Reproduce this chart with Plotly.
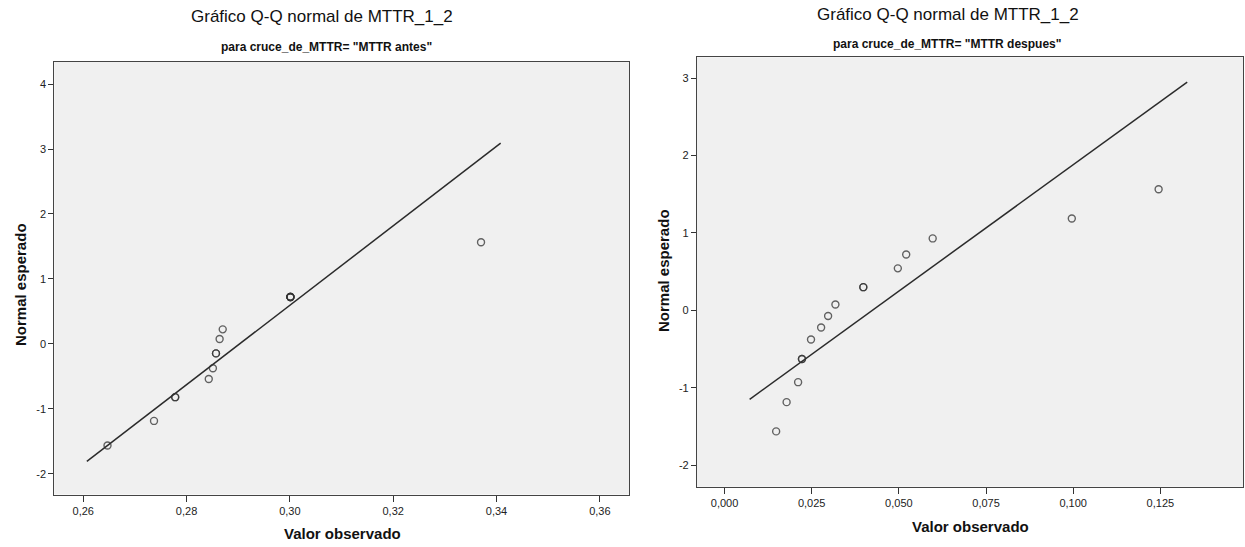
import plotly.graph_objects as go

# ---- data ----
antes_obs = [0.2647, 0.2737, 0.2778, 0.2778, 0.2843, 0.2851, 0.2857, 0.2857,
             0.2864, 0.2870, 0.3001, 0.3001, 0.3001, 0.3001, 0.3001, 0.3370]
antes_exp = [-1.565, -1.187, -0.821, -0.821, -0.542, -0.377, -0.147, -0.147,
             0.074, 0.223, 0.722, 0.722, 0.722, 0.722, 0.722, 1.565]
antes_line_x = [0.2607, 0.3408]
antes_line_y = [-1.81, 3.09]

despues_obs = [0.0148, 0.0178, 0.0211, 0.0222, 0.0222, 0.0248, 0.0277, 0.0297,
               0.0318, 0.0398, 0.0398, 0.0497, 0.0521, 0.0597, 0.0996, 0.1245]
despues_exp = [-1.565, -1.187, -0.929, -0.629, -0.629, -0.377, -0.223, -0.074,
               0.074, 0.299, 0.299, 0.542, 0.722, 0.929, 1.187, 1.565]
despues_line_x = [0.0072, 0.1327]
despues_line_y = [-1.15, 2.95]

left_xticks = [0.26, 0.28, 0.30, 0.32, 0.34, 0.36]
right_xticks = [0.000, 0.025, 0.050, 0.075, 0.100, 0.125]
left_yticks = [-2, -1, 0, 1, 2, 3, 4]
left_yticktext = ["-2", "-1", "0", "1", "2", "3", "4"]
right_yticks = [-2, -1, 0, 1, 2, 3]
right_yticktext = ["-2", "-1", "0", "1", "2", "3"]

title_text = "Gráfico Q-Q normal de MTTR_1_2"
sub_left = 'para cruce_de_MTTR= "MTTR antes"'
sub_right = 'para cruce_de_MTTR= "MTTR despues"'
x_title = "Valor observado"
y_title = "Normal esperado"

W, H = 1245, 547
NARROW = "Liberation Sans Narrow, Arial Narrow, Liberation Sans, Arial, sans-serif"
SANS = "Liberation Sans, Arial, sans-serif"

fig = go.Figure()

marker = dict(symbol="circle-open", size=7, color="rgba(50,50,50,0.75)",
              line=dict(width=1.4, color="rgba(50,50,50,0.75)"))

fig.add_trace(go.Scatter(x=antes_line_x, y=antes_line_y, mode="lines",
                         line=dict(color="#2b2b2b", width=1.5),
                         xaxis="x", yaxis="y", showlegend=False, hoverinfo="skip"))
fig.add_trace(go.Scatter(x=antes_obs, y=antes_exp, mode="markers", marker=marker,
                         xaxis="x", yaxis="y", showlegend=False))
fig.add_trace(go.Scatter(x=despues_line_x, y=despues_line_y, mode="lines",
                         line=dict(color="#2b2b2b", width=1.5),
                         xaxis="x2", yaxis="y2", showlegend=False, hoverinfo="skip"))
fig.add_trace(go.Scatter(x=despues_obs, y=despues_exp, mode="markers", marker=marker,
                         xaxis="x2", yaxis="y2", showlegend=False))

axis_common = dict(showgrid=False, zeroline=False, showline=True, mirror=True,
                   linecolor="#444444", linewidth=1.2, ticks="outside",
                   tickcolor="#333333", tickwidth=1.2,
                   tickfont=dict(family=NARROW, size=11, color="#222222"))

def px_x(p):
    return p / W

def px_y(p):
    return 1 - p / H

fig.update_layout(
    width=W, height=H,
    margin=dict(l=0, r=0, t=0, b=0),
    paper_bgcolor="white",
    plot_bgcolor="#f0f0f0",
    separators=",.",
    xaxis=dict(domain=[px_x(54.3), px_x(629.3)], range=[0.2544, 0.3657],
               tickvals=left_xticks, tickformat=".2f", ticklen=6,
               anchor="y", **axis_common),
    yaxis=dict(domain=[px_y(494.5), px_y(62)], range=[-2.32, 4.34],
               tickvals=left_yticks, ticktext=left_yticktext, ticklen=5,
               anchor="x", **axis_common),
    xaxis2=dict(domain=[px_x(697), px_x(1243)], range=[-0.0079, 0.1487],
                tickvals=right_xticks, tickformat=".3f", ticklen=6,
                anchor="y2", **axis_common),
    yaxis2=dict(domain=[px_y(486.7), px_y(57.3)], range=[-2.28, 3.27],
                tickvals=right_yticks, ticktext=right_yticktext, ticklen=5,
                anchor="x2", **axis_common),
)

ann = []
def add(text, x, y, size, family, angle=0, bold=False):
    t = f"<b>{text}</b>" if bold else text
    ann.append(dict(text=t, x=px_x(x), y=px_y(y), xref="paper", yref="paper",
                    showarrow=False, xanchor="center", yanchor="middle",
                    textangle=angle, font=dict(family=family, size=size, color="#111111")))

add(title_text, 322, 17, 17, NARROW)
add(sub_left, 326, 47, 12, NARROW, bold=True)
add(title_text, 948, 14, 17, NARROW)
add(sub_right, 947, 44, 12, NARROW, bold=True)
add(x_title, 342, 533, 15, SANS, bold=True)
add(x_title, 970, 526, 15, SANS, bold=True)
add(y_title, 20, 285, 15, SANS, angle=-90, bold=True)
add(y_title, 663, 271, 15, SANS, angle=-90, bold=True)

fig.update_layout(annotations=ann)

fig.write_html("out.html",
               config={"displayModeBar": False},
               post_script="document.body.style.margin='0';document.body.style.overflow='hidden';")
